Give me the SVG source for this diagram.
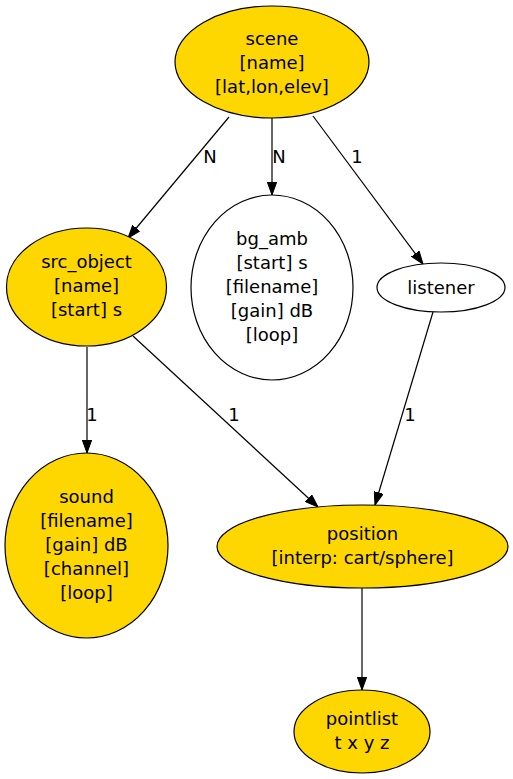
<svg xmlns="http://www.w3.org/2000/svg" width="513" height="779" viewBox="0 0 513 779">
<style>
text{font-family:"DejaVu Sans","Liberation Sans",sans-serif;font-size:18px;fill:#000;text-anchor:middle}
.y{fill:#ffd700;stroke:#000;stroke-width:1.2}
.w{fill:#fff;stroke:#000;stroke-width:1.2}
.e{fill:none;stroke:#000;stroke-width:1.2;marker-end:url(#ah)}
</style>
<defs>
<marker id="ah" viewBox="0 0 13 10" refX="13" refY="5" markerWidth="13" markerHeight="10" markerUnits="userSpaceOnUse" orient="auto">
<path d="M0,0.3 L13,5 L0,9.7 z" fill="#000" stroke="#000" stroke-width="1"/>
</marker>
</defs>
<rect width="513" height="779" fill="#fff"/>
<g id="connectors">
<path class="e" d="M229,117 L128,238"/>
<text x="210" y="163">N</text>
<path class="e" d="M272,118 L272,195"/>
<text x="279" y="163">N</text>
<path class="e" d="M313,116 L423,264"/>
<text x="357" y="163">1</text>
<path class="e" d="M87,347 L87,453"/>
<text x="92" y="421">1</text>
<path class="e" d="M133,336 L318,507"/>
<text x="234" y="421">1</text>
<path class="e" d="M433,312 L375,505"/>
<text x="410" y="421">1</text>
<path class="e" d="M362,588 L362,690"/>
</g>
<g id="scene">
<ellipse class="y" cx="272" cy="62" rx="97" ry="56"/>
<text x="272" y="44.5">scene</text>
<text x="272" y="68.5">[name]</text>
<text x="272" y="92.5">[lat,lon,elev]</text>
</g>
<g id="src_object">
<ellipse class="y" cx="86.5" cy="287" rx="80" ry="59"/>
<text x="86.5" y="268">src_object</text>
<text x="86.5" y="292">[name]</text>
<text x="86.5" y="316">[start] s</text>
</g>
<g id="bg_amb">
<ellipse class="w" cx="272" cy="287.5" rx="81" ry="92.5"/>
<text x="272" y="244.5">bg_amb</text>
<text x="272" y="268.5">[start] s</text>
<text x="272" y="292.5">[filename]</text>
<text x="272" y="316.5">[gain] dB</text>
<text x="272" y="340.5">[loop]</text>
</g>
<g id="listener">
<ellipse class="w" cx="441" cy="287.5" rx="64" ry="24.5"/>
<text x="441" y="293.5">listener</text>
</g>
<g id="sound">
<ellipse class="y" cx="86.5" cy="545.5" rx="81.5" ry="92.5"/>
<text x="86.5" y="502.5">sound</text>
<text x="86.5" y="526.5">[filename]</text>
<text x="86.5" y="550.5">[gain] dB</text>
<text x="86.5" y="574.5">[channel]</text>
<text x="86.5" y="598.5">[loop]</text>
</g>
<g id="position">
<ellipse class="y" cx="362.5" cy="546.5" rx="145.5" ry="41.5"/>
<text x="362.5" y="539.5">position</text>
<text x="362.5" y="563.5">[interp: cart/sphere]</text>
</g>
<g id="pointlist">
<ellipse class="y" cx="362" cy="731.5" rx="68" ry="41.5"/>
<text x="362" y="725">pointlist</text>
<text x="362" y="749">t x y z</text>
</g>
</svg>
